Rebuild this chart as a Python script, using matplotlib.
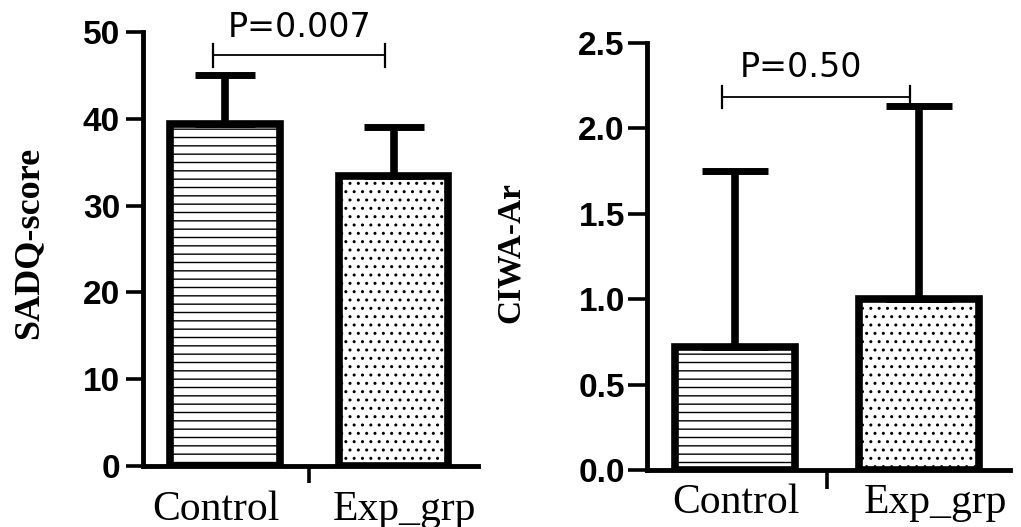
import matplotlib
matplotlib.use("Agg")
import matplotlib.pyplot as plt
import matplotlib.transforms as mtransforms

# ---- data ----
categories = ["Control", "Exp_grp"]
sadq_mean = [39.4, 33.4]
sadq_sd = [5.7, 5.7]
ciwa_mean = [0.72, 1.0]
ciwa_sd = [1.03, 1.13]
sadq_ticks = [0, 10, 20, 30, 40, 50]
ciwa_ticks = [0.0, 0.5, 1.0, 1.5, 2.0, 2.5]
sadq_p = "P=0.007"
ciwa_p = "P=0.50"
hatches = ["--", ".."]

plt.rcParams['hatch.linewidth'] = 1.0

fig = plt.figure(figsize=(10.21, 5.27), dpi=100)
axL = fig.add_axes([143/1021, 61/527, 335/1021, 434/527])
axR = fig.add_axes([647/1021, 57/527, 363/1021, 427/527])

xpos = [0, 1]

def draw(ax, means, sds, ticks, fmt, ylabel, pval, br_y, br_h, p_y, p_x,
         xlim, capsize, ticklen, tickpad, lab_x, lab_y, ylab_pos, ylab_size):
    bars = ax.bar(xpos, means, width=0.65, color="white", edgecolor="black",
                  linewidth=5.5, zorder=2)
    for b, h in zip(bars, hatches):
        b.set_hatch(h)
    ax.errorbar(xpos, means, yerr=[[0]*len(sds), sds], fmt="none",
                ecolor="black", elinewidth=5.5, capsize=capsize, capthick=5,
                zorder=3)
    ax.set_xlim(*xlim)
    ax.set_ylim(ticks[0], ticks[-1])
    ax.set_yticks(ticks)
    ax.set_yticklabels([fmt.format(t) for t in ticks],
                       fontfamily="Liberation Sans", fontweight="bold",
                       fontsize=24)
    ax.set_xticks([0.5])
    ax.set_xticklabels([""])
    ax.tick_params(axis="both", width=2.6, length=ticklen, direction="out")
    ax.tick_params(axis="y", pad=tickpad)
    for s in ["top", "right"]:
        ax.spines[s].set_visible(False)
    for s in ["left", "bottom"]:
        ax.spines[s].set_linewidth(3.5)
    # category labels
    trans = mtransforms.blended_transform_factory(ax.transData, fig.transFigure)
    for x, lab in zip(lab_x, categories):
        ax.text(x, lab_y, lab, transform=trans, ha="center", va="baseline",
                fontfamily="Liberation Serif", fontsize=30, clip_on=False)
    # y label
    fig.text(ylab_pos[0], ylab_pos[1], ylabel, rotation=90, ha="center",
             va="center", fontfamily="Liberation Serif", fontweight="bold",
             fontsize=ylab_size)
    # significance bracket
    x1, x2 = xpos[0] - 0.07, xpos[1] - 0.05
    ax.plot([x1, x2], [br_y, br_y], color="black", lw=1.3, clip_on=False)
    for xx in (x1, x2):
        ax.plot([xx, xx], [br_y - br_h, br_y + br_h], color="black", lw=1.6,
                clip_on=False)
    ax.text(p_x, p_y, pval, ha="center", va="baseline",
            fontfamily="DejaVu Sans", fontsize=24, clip_on=False)

draw(axL, sadq_mean, sadq_sd, sadq_ticks, "{:d}", "SADQ-score", sadq_p,
     47.3, 1.3, 49.4, 0.44, (-0.487, 1.5), 21.6, 12.5, 4,
     [-0.053, 1.062], 1 - 520/527, (29/1021, 1 - 243/527), 26)
draw(axR, ciwa_mean, ciwa_sd, ciwa_ticks, "{:.1f}", "CIWA-Ar", ciwa_p,
     2.185, 0.065, 2.30, 0.36, (-0.478, 1.495), 23.8, 14, 2,
     [0.008, 1.09], 1 - 513/527, (510/1021, 1 - 253/527), 24)

fig.savefig("out.png", dpi=100)
